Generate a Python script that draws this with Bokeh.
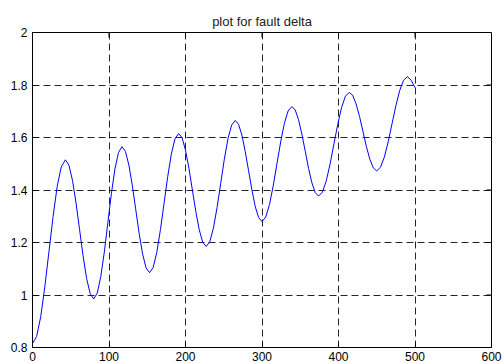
import math
from bokeh.plotting import figure
from bokeh.models import FixedTicker, Range1d
from bokeh.embed import file_html
from bokeh.resources import INLINE

# Rotor angle (delta) samples of the fault simulation
t = [0, 5.4, 10.75, 16.1, 21.5, 26.9, 32.25, 37.6,
     43, 47.6, 52.25, 56.9, 61.5, 66.1, 70.75, 75.4,
     80, 84.6, 89.25, 93.9, 98.5, 103.1, 107.75, 112.4,
     117, 121.5, 126, 130.5, 135, 139.5, 144, 148.5,
     153, 157.75, 162.5, 167.25, 172, 176.75, 181.5, 186.25,
     191, 195.5, 200, 204.5, 209, 213.5, 218, 222.5,
     227, 231.75, 236.5, 241.25, 246, 250.75, 255.5, 260.25,
     265, 269.4, 273.75, 278.1, 282.5, 286.9, 291.25, 295.6,
     300, 304.9, 309.75, 314.6, 319.5, 324.4, 329.25, 334.1,
     339, 343.4, 347.75, 352.1, 356.5, 360.9, 365.25, 369.6,
     374, 379, 384, 389, 394, 399, 404, 409,
     414, 418.5, 423, 427.5, 432, 436.5, 441, 445.5,
     450, 455, 460, 465, 470, 475, 480, 485,
     490, 495, 500]
delta = [0.815, 0.842, 0.917, 1.031, 1.165, 1.299, 1.413, 1.488,
         1.515, 1.495, 1.437, 1.351, 1.250, 1.149, 1.063, 1.005,
         0.985, 1.007, 1.070, 1.164, 1.275, 1.386, 1.480, 1.543,
         1.565, 1.547, 1.495, 1.417, 1.325, 1.233, 1.155, 1.103,
         1.085, 1.105, 1.163, 1.249, 1.350, 1.451, 1.537, 1.595,
         1.615, 1.599, 1.552, 1.482, 1.400, 1.318, 1.248, 1.201,
         1.185, 1.203, 1.255, 1.333, 1.425, 1.517, 1.595, 1.647,
         1.665, 1.650, 1.609, 1.546, 1.473, 1.399, 1.336, 1.295,
         1.280, 1.297, 1.344, 1.415, 1.499, 1.583, 1.654, 1.701,
         1.718, 1.705, 1.668, 1.613, 1.548, 1.482, 1.427, 1.390,
         1.377, 1.392, 1.435, 1.499, 1.575, 1.650, 1.714, 1.757,
         1.772, 1.761, 1.728, 1.680, 1.623, 1.565, 1.517, 1.484,
         1.473, 1.487, 1.526, 1.584, 1.653, 1.721, 1.779, 1.818,
         1.832, 1.818, 1.790]

x_ticks = [0, 100, 200, 300, 400, 500, 600]
y_ticks = [0.8, 1.0, 1.2, 1.4, 1.6, 1.8, 2.0]
y_tick_labels = ["0.8", "1", "1.2", "1.4", "1.6", "1.8", "2"]

X_MIN, X_MAX = 0, 600
Y_MIN, Y_MAX = 0.8, 2.0
FONT = "Liberation Sans"
TICK_LEN = 5

p = figure(frame_width=459, frame_height=315,
           x_range=Range1d(X_MIN, X_MAX), y_range=Range1d(Y_MIN, Y_MAX),
           output_backend="svg", toolbar_location=None,
           min_border_left=32, min_border_right=11,
           min_border_top=32, min_border_bottom=16,
           title="plot for fault delta")
p.background_fill_color = "white"
p.border_fill_color = "white"
p.outline_line_color = "black"
p.outline_line_width = 1

p.title.align = "center"
p.title.text_font = FONT
p.title.text_font_size = "13px"
p.title.text_font_style = "normal"
p.title.text_color = "#222222"
p.title.standoff = 7

for g, ticks in ((p.xgrid[0], x_ticks), (p.ygrid[0], y_ticks)):
    g.ticker = FixedTicker(ticks=ticks)
    g.grid_line_color = "black"
    g.grid_line_dash = "7 4"
    g.grid_line_width = 1
    g.grid_line_alpha = 0.85

p.line(t, delta, line_color="#0000FF", line_width=1)

for ax, ticks, standoff in ((p.xaxis[0], x_ticks, 4), (p.yaxis[0], y_ticks, 5)):
    ax.ticker = FixedTicker(ticks=ticks)
    ax.minor_tick_line_color = None
    ax.major_tick_in = TICK_LEN
    ax.major_tick_out = 0
    ax.major_tick_line_color = "black"
    ax.axis_line_color = "black"
    ax.major_label_text_font = FONT
    ax.major_label_text_font_size = "12px"
    ax.major_label_text_color = "black"
    ax.major_label_standoff = standoff
p.yaxis[0].major_label_overrides = {v: s for v, s in zip(y_ticks, y_tick_labels)}

# inward tick marks along the top and right edges of the box
p.ray(x=x_ticks, y=[Y_MAX] * len(x_ticks), length=TICK_LEN, length_units="screen",
      angle=-math.pi / 2, line_color="black", line_width=1)
p.ray(x=[X_MAX] * len(y_ticks), y=y_ticks, length=TICK_LEN, length_units="screen",
      angle=math.pi, line_color="black", line_width=1)

open("out.html", "w").write(file_html(p, INLINE))
